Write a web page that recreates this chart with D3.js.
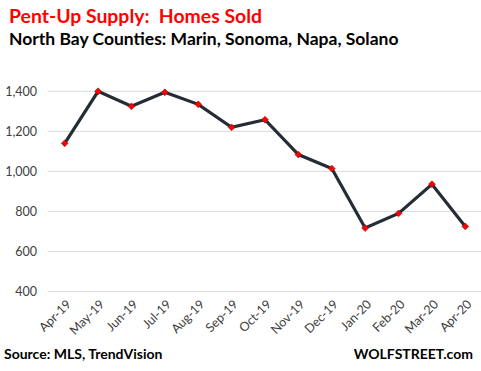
<!DOCTYPE html>
<html>
<head>
<meta charset="utf-8">
<script src="https://cdn.jsdelivr.net/npm/d3@7"></script>
<style>
  body { margin: 0; background: #fff; }
  svg { display: block; }
</style>
</head>
<body>
<svg id="chart"></svg>
<script>
// Data
const months = ["Apr-19", "May-19", "Jun-19", "Jul-19", "Aug-19", "Sep-19", "Oct-19",
                "Nov-19", "Dec-19", "Jan-20", "Feb-20", "Mar-20", "Apr-20"];
const homesSold = [1140, 1400, 1325, 1395, 1335, 1220, 1258, 1084, 1014, 717, 790, 936, 725];
const yTicks = [400, 600, 800, 1000, 1200, 1400];

const width = 481, height = 371;
const svg = d3.select("#chart")
    .attr("width", width)
    .attr("height", height);

const x = d3.scaleBand().domain(months).range([48, 482]);
const y = d3.scaleLinear().domain([400, 1400]).range([291.5, 91.3]);

// Gridlines
svg.append("g")
    .selectAll("line")
    .data(yTicks)
    .enter()
    .append("line")
    .attr("x1", 48)
    .attr("x2", 481)
    .attr("y1", d => y(d))
    .attr("y2", d => y(d))
    .attr("stroke", "#d9d9d9")
    .attr("stroke-width", 1);

// Y axis labels
const yAxis = svg.append("g")
    .attr("transform", "translate(37,0)")
    .call(d3.axisLeft(y).tickValues(yTicks).tickSize(0).tickPadding(0).tickFormat(d3.format(",")));
yAxis.select(".domain").remove();
yAxis.selectAll("text")
    .attr("font-family", "Lato, 'Open Sans', sans-serif")
    .attr("font-size", 12.5)
    .attr("fill", "#404040");

// X axis labels, rotated
const xAxis = svg.append("g")
    .attr("transform", "translate(0,298)")
    .call(d3.axisBottom(x).tickSize(0).tickPadding(0));
xAxis.select(".domain").remove();
xAxis.selectAll("text")
    .attr("font-family", "Lato, 'Open Sans', sans-serif")
    .attr("font-size", 12.5)
    .attr("fill", "#404040")
    .attr("text-anchor", "end")
    .attr("dy", "0.35em")
    .attr("transform", "translate(4,4) rotate(-45)");

// Line
const line = d3.line()
    .x((d, i) => x(months[i]) + x.bandwidth() / 2)
    .y(d => y(d));

svg.append("path")
    .datum(homesSold)
    .attr("d", line)
    .attr("fill", "none")
    .attr("stroke", "#262c36")
    .attr("stroke-width", 3.2)
    .attr("stroke-linejoin", "miter");

// Diamond markers
const diamond = d3.symbol().type(d3.symbolDiamond2).size(30);
svg.append("g")
    .selectAll("path")
    .data(homesSold)
    .enter()
    .append("path")
    .attr("d", diamond)
    .attr("transform", (d, i) => "translate(" + (x(months[i]) + x.bandwidth() / 2) + "," + y(d) + ")")
    .attr("fill", "#ff0000")
    .attr("stroke", "#7a1a1a")
    .attr("stroke-width", 0.6);

// Titles
svg.append("text")
    .attr("x", 9)
    .attr("y", 23)
    .attr("font-family", "Lato, 'Open Sans', sans-serif")
    .attr("font-weight", "bold")
    .attr("font-size", 19.4)
    .attr("fill", "#ff0000")
    .attr("xml:space", "preserve")
    .text("Pent-Up Supply:  Homes Sold");

svg.append("text")
    .attr("x", 9)
    .attr("y", 45)
    .attr("font-family", "Lato, 'Open Sans', sans-serif")
    .attr("font-weight", "bold")
    .attr("font-size", 17.5)
    .attr("fill", "#000")
    .text("North Bay Counties: Marin, Sonoma, Napa, Solano");

// Footer
svg.append("text")
    .attr("x", 4)
    .attr("y", 359)
    .attr("font-family", "Lato, 'Open Sans', sans-serif")
    .attr("font-weight", "bold")
    .attr("font-size", 14)
    .attr("fill", "#000")
    .text("Source: MLS, TrendVision");

svg.append("text")
    .attr("x", 473)
    .attr("y", 359)
    .attr("text-anchor", "end")
    .attr("font-family", "Lato, 'Open Sans', sans-serif")
    .attr("font-weight", "bold")
    .attr("font-size", 14)
    .attr("fill", "#000")
    .text("WOLFSTREET.com");
</script>
</body>
</html>
